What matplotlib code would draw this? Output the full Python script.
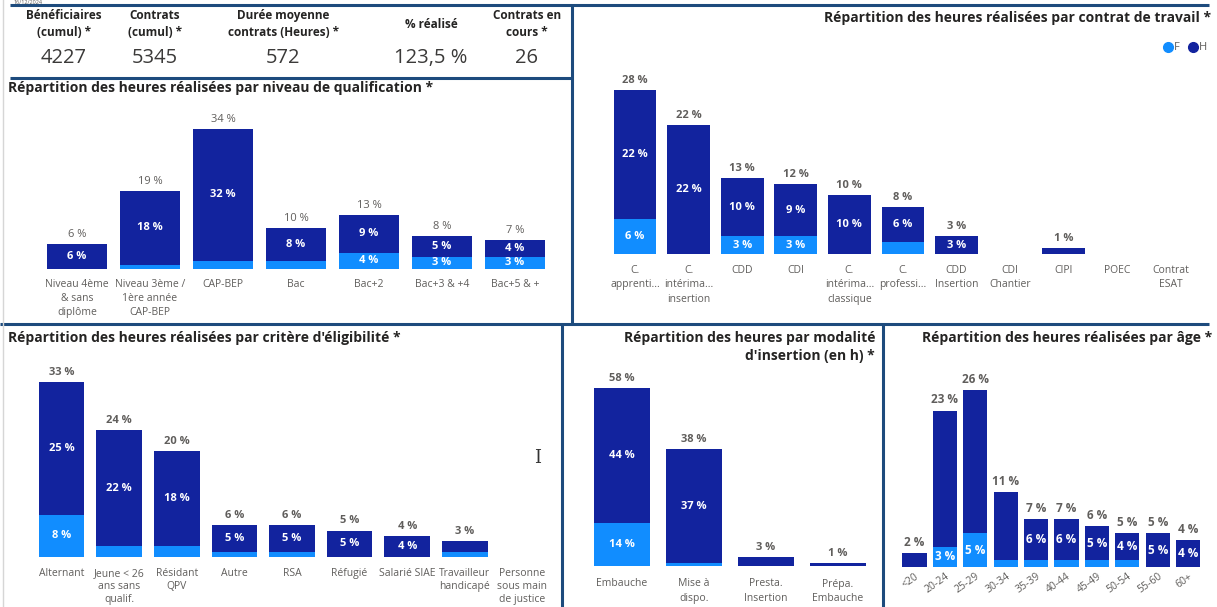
import matplotlib.pyplot as plt

plt.rcParams['font.family'] = ['Open Sans', 'DejaVu Sans']

W, H = 1217, 607
DARK = '#12239E'
LIGHT = '#118DFF'
BORDER = '#1D4B7D'
TITLE = '#252423'
GREY = '#605E5C'

# Indicateurs du bandeau
kpi_titles = ['Bénéficiaires\n(cumul) *', 'Contrats\n(cumul) *', 'Durée moyenne\ncontrats (Heures) *',
              '% réalisé', 'Contrats en\ncours *']
kpi_values = ['4227', '5345', '572', '123,5 %', '26']

# Niveau de qualification
qualif_labels = ['Niveau 4ème\n& sans\ndiplôme', 'Niveau 3ème /\n1ère année\nCAP-BEP', 'CAP-BEP', 'Bac',
                 'Bac+2', 'Bac+3 & +4', 'Bac+5 & +']
qualif_h = [6, 18, 32, 8, 9, 5, 4]
qualif_f = [0, 1, 2, 2, 4, 3, 3]

# Contrat de travail
contrat_labels = ['C.\napprenti...', 'C.\nintérima...\ninsertion', 'CDD', 'CDI', 'C.\nintérima...\nclassique',
                  'C.\nprofessi...', 'CDD\nInsertion', 'CDI\nChantier', 'CIPI', 'POEC', 'Contrat\nESAT']
contrat_h = [22, 22, 10, 9, 10, 6, 3, 0, 1, 0, 0]
contrat_f = [6, 0, 3, 3, 0, 2, 0, 0, 0, 0, 0]

# Critère d'éligibilité
critere_labels = ['Alternant', 'Jeune < 26\nans sans\nqualif.', 'Résidant\nQPV', 'Autre', 'RSA', 'Réfugié',
                  'Salarié SIAE', 'Travailleur\nhandicapé', 'Personne\nsous main\nde justice']
critere_h = [25, 22, 18, 5, 5, 5, 4, 2, 0]
critere_f = [8, 2, 2, 1, 1, 0, 0, 1, 0]

# Modalité d'insertion
modalite_labels = ['Embauche', 'Mise à\ndispo.', 'Presta.\nInsertion', 'Prépa.\nEmbauche']
modalite_h = [44, 37, 3, 1]
modalite_f = [14, 1, 0, 0]

# Age
age_labels = ['<20', '20-24', '25-29', '30-34', '35-39', '40-44', '45-49', '50-54', '55-60', '60+']
age_h = [2, 20, 21, 10, 6, 6, 5, 4, 5, 4]
age_f = [0, 3, 5, 1, 1, 1, 1, 1, 0, 0]

fig = plt.figure(figsize=(W / 100, H / 100), dpi=100)

# axe de fond en coordonnées pixels
ax0 = fig.add_axes([0, 0, 1, 1])
ax0.set_xlim(0, W)
ax0.set_ylim(H, 0)
ax0.axis('off')


def draw_panel(names, h_vals, f_vals, cx0, step, base_y, px_per, ymax, pad,
               width=0.8, hide_h=(), rot=0, weight='bold', fs=8, lsp=1.4):
    n = len(names)
    rect = [(cx0 - step / 2) / W, 1 - base_y / H, n * step / W, ymax * px_per / H]
    ax = fig.add_axes(rect)
    ax.patch.set_alpha(0)
    x = list(range(n))
    ax.bar(x, f_vals, width, color=LIGHT)
    ax.bar(x, h_vals, width, bottom=f_vals, color=DARK)
    for i in x:
        tot = h_vals[i] + f_vals[i]
        if tot > 0:
            ax.annotate(f'{tot} %', (i, tot), xytext=(0, 3), textcoords='offset points',
                        ha='center', va='bottom', fontsize=fs, color=GREY, fontweight=weight)
        segs = [(f_vals[i], 0, False), (h_vals[i], f_vals[i], i in hide_h)]
        for v, b, skip in segs:
            if v >= 3 and v * px_per >= 11 and not skip:
                ax.text(i, b + v / 2, f'{v} %', ha='center', va='center', color='white',
                        fontweight='bold', fontsize=fs)
    ax.set_xlim(-0.5, n - 0.5)
    ax.set_ylim(0, ymax)
    ax.set_yticks([])
    ax.set_xticks(x)
    if rot:
        ax.set_xticklabels(names, rotation=rot, ha='right', rotation_mode='anchor')
    else:
        ax.set_xticklabels(names, linespacing=lsp)
    ax.tick_params(axis='x', length=0, pad=pad, labelsize=7.5, labelcolor=GREY)
    for s in ax.spines.values():
        s.set_visible(False)
    return ax


draw_panel(qualif_labels, qualif_h, qualif_f, 77, 73, 269, 4.12, 38, 7, width=0.82, weight='normal')
draw_panel(contrat_labels, contrat_h, contrat_f, 635, 53.6, 254, 5.86, 30, 8)
draw_panel(critere_labels, critere_h, critere_f, 61.6, 57.6, 557, 5.3, 36, 8, width=0.79, lsp=1.25)
draw_panel(modalite_labels, modalite_h, modalite_f, 622, 72, 566, 3.07, 62, 9, width=0.78)
draw_panel(age_labels, age_h, age_f, 914.5, 30.4, 567, 6.8, 28, 3, hide_h=(1, 2, 3), rot=35, fs=8.5)

# bandeau KPI
kpi_x = [64, 155, 283, 431, 527]
for xk, t, v in zip(kpi_x, kpi_titles, kpi_values):
    ax0.text(xk, 24, t, ha='center', va='center', fontsize=8.5, fontweight='bold',
             color=TITLE, linespacing=1.4)
    ax0.text(xk, 58, v, ha='center', va='center', fontsize=14.5, color='#3B3A39')
ax0.text(14, 0.5, '16/12/2024', ha='left', va='top', fontsize=4, color=GREY)

# titres
tkw = dict(fontsize=10, fontweight='bold', color=TITLE, va='center')
ax0.text(8, 88, 'Répartition des heures réalisées par niveau de qualification *', ha='left', **tkw)
ax0.text(1211, 18, 'Répartition des heures réalisées par contrat de travail *', ha='right', **tkw)
ax0.text(8, 338, "Répartition des heures réalisées par critère d'éligibilité *", ha='left', **tkw)
ax0.text(875, 347, "Répartition des heures par modalité\nd'insertion (en h) *", ha='right',
         multialignment='right', linespacing=1.35, **tkw)
ax0.text(1212, 338, 'Répartition des heures réalisées par âge *', ha='right', **tkw)

# légende
ax0.plot(1168, 47, 'o', ms=7, color=LIGHT)
ax0.text(1174, 47, 'F', ha='left', va='center', fontsize=8, color=GREY)
ax0.plot(1193, 47, 'o', ms=7, color=DARK)
ax0.text(1199, 47, 'H', ha='left', va='center', fontsize=8, color=GREY)

# curseur
ax0.text(538, 458, 'I', ha='center', va='center', fontsize=13, color='#333333', family='DejaVu Serif')

# bordures des panneaux
lines = [((10, 1209), (5, 5)), ((10, 572), (78, 78)), ((572, 572), (5, 324)),
         ((0, 1209), (324, 324)), ((562, 562), (324, 607)), ((883, 883), (324, 607))]
for xs, ys in lines:
    ax0.plot(xs, ys, color=BORDER, lw=2.2, solid_capstyle='butt')
ax0.plot([3, 3], [0, 607], color='#D6D6D6', lw=1)

fig.savefig('out.png', dpi=100)
